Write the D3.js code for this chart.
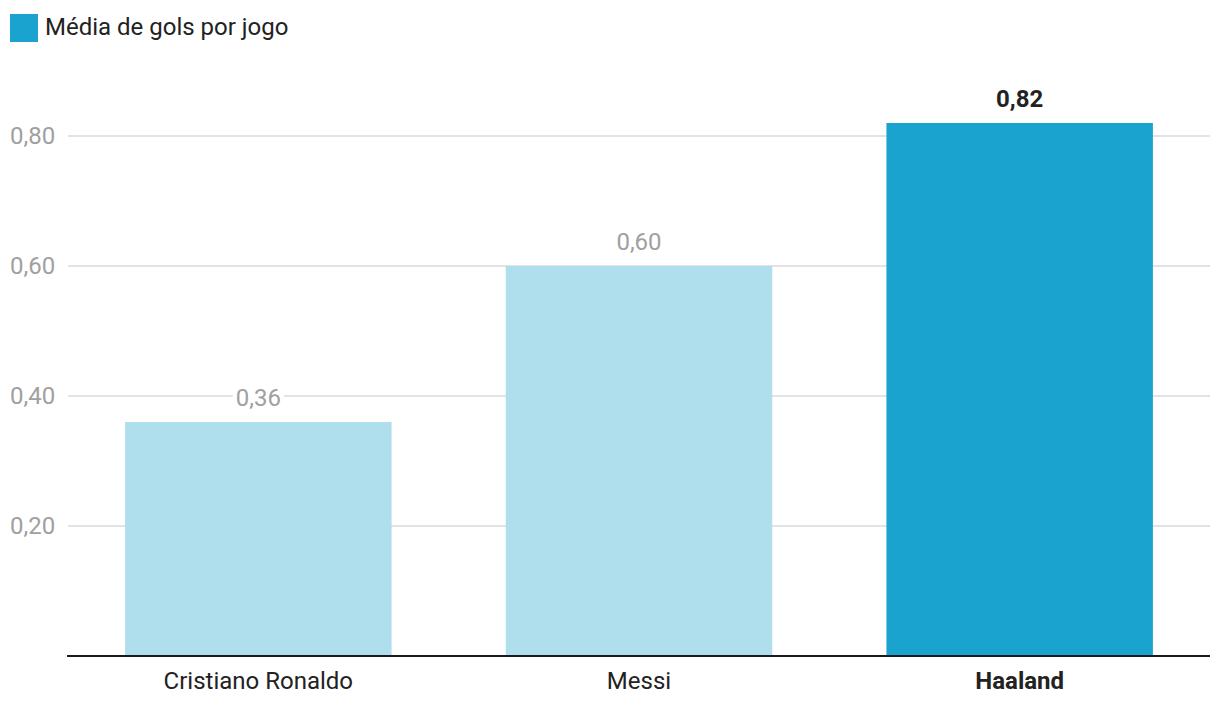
<!DOCTYPE html>
<html><head><meta charset="utf-8">
<script src="https://cdn.jsdelivr.net/npm/d3@7"></script>
<style>body{margin:0;background:#fff}svg{display:block;font-family:Roboto,"Noto Sans",sans-serif}</style>
</head><body>
<svg id="c" width="1220" height="712"></svg>
<script>
const categories = ["Cristiano Ronaldo", "Messi", "Haaland"];
const values = [0.36, 0.60, 0.82];
const highlight = [false, false, true];
const yTicks = [0.2, 0.4, 0.6, 0.8];
const legendLabel = "Média de gols por jogo";

const fmt = v => d3.format(".2f")(v).replace(".", ",");
const svg = d3.select("#c");
const x = d3.scaleBand().domain(categories).range([68, 1210]).paddingInner(0.3).paddingOuter(0.15);
const y = d3.scaleLinear().domain([0, 0.8]).range([656, 136]);

// legend
svg.append("rect").attr("x", 10).attr("y", 14).attr("width", 28).attr("height", 28).attr("fill", "#1aa3ce");
svg.append("text").attr("x", 45).attr("y", 35).attr("font-size", 24).attr("fill", "#222").text(legendLabel);

// grid
svg.append("g").selectAll("line").data(yTicks).join("line")
  .attr("x1", 68).attr("x2", 1210).attr("y1", d => y(d)).attr("y2", d => y(d))
  .attr("stroke", "#e3e3e3").attr("stroke-width", 2);
svg.append("g").selectAll("text").data(yTicks).join("text")
  .attr("x", 10).attr("y", d => y(d)).attr("dy", "0.35em").attr("font-size", 24).attr("fill", "#a0a0a0")
  .text(fmt);

// bars
svg.append("g").selectAll("rect").data(categories).join("rect")
  .attr("x", d => x(d)).attr("width", x.bandwidth())
  .attr("y", (d, i) => y(values[i])).attr("height", (d, i) => y(0) - y(values[i]))
  .attr("fill", (d, i) => highlight[i] ? "#1aa3ce" : "#afdeec");

// value labels
const lab = svg.append("g").selectAll("g").data(categories).join("g");
lab.each(function(d, i) {
  const g = d3.select(this);
  const t = g.append("text").attr("x", x(d) + x.bandwidth() / 2).attr("y", y(values[i]) - 16)
    .attr("text-anchor", "middle").attr("font-size", 24)
    .attr("font-weight", highlight[i] ? "bold" : "normal")
    .attr("fill", highlight[i] ? "#222" : "#a0a0a0").text(fmt(values[i]));
  const bb = t.node().getBBox();
  g.insert("rect", "text").attr("x", bb.x - 3).attr("y", bb.y).attr("width", bb.width + 6).attr("height", bb.height).attr("fill", "#fff");
});

// baseline
svg.append("line").attr("x1", 67).attr("x2", 1210).attr("y1", 656).attr("y2", 656).attr("stroke", "#1a1a1a").attr("stroke-width", 2);

// category labels
svg.append("g").selectAll("text").data(categories).join("text")
  .attr("x", d => x(d) + x.bandwidth() / 2).attr("y", 689).attr("text-anchor", "middle")
  .attr("font-size", 24).attr("fill", "#222")
  .attr("font-weight", (d, i) => highlight[i] ? "bold" : "normal").text(d => d);
</script>
</body></html>
